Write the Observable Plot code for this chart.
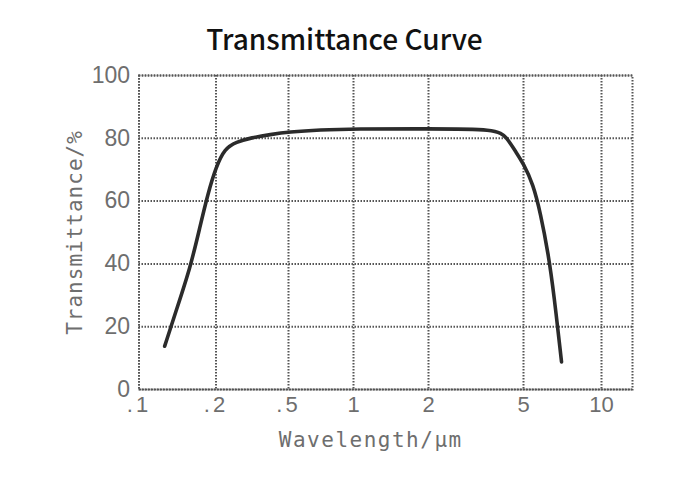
<!DOCTYPE html>
<html>
<head>
<meta charset="utf-8">
<script src="https://cdn.jsdelivr.net/npm/d3@7"></script>
<script src="https://cdn.jsdelivr.net/npm/@observablehq/plot@0.6"></script>
<style>
  html, body { margin: 0; padding: 0; background: #fff; }
  #title {
    width: 689px; height: 44px; padding-top: 16px;
    font-family: "Noto Sans CJK SC", "Noto Sans", sans-serif;
    font-weight: 500; font-size: 28px; line-height: 44px;
    text-align: center; color: #111;
  }
  svg { display: block; }
</style>
</head>
<body>
<div id="title">Transmittance Curve</div>
<div id="chart"></div>
<script>
// Data
const wavelength = [0.126, 0.1385, 0.159, 0.173, 0.186, 0.2, 0.223, 0.258, 0.313, 0.398, 0.5, 0.704, 1, 2, 3.87, 4.24, 4.65, 5, 5.44, 5.82, 6.23, 6.55, 7.01];
const transmittance = [13.8, 24.2, 39, 51.7, 62.4, 70.8, 76.7, 78.8, 80.2, 81.2, 82, 82.7, 83, 83, 83, 80.4, 75.6, 71.9, 65.5, 56, 43.3, 30.5, 8.8];
const xTicks = [0.1, 0.2, 0.5, 1, 2, 5, 10];
const xTickLabels = [".1", ".2", ".5", "1", "2", "5", "10"];
const yTicks = [0, 20, 40, 60, 80, 100];

const data = wavelength.map((w, i) => ({w, t: transmittance[i]}));

const gridStyle = {stroke: "#555", strokeOpacity: 1, strokeWidth: 2, strokeDasharray: "1.5,1.5"};
const labelGray = "#6e6e6e";
const tickFont = "'Liberation Sans', Arial, sans-serif";

const chart = Plot.plot({
  width: 689,
  height: 431,
  marginLeft: 138.5,
  marginRight: 57,
  marginTop: 15,
  marginBottom: 102,
  style: {fontFamily: "'Liberation Sans', Arial, sans-serif", background: "#fff"},
  x: {
    type: "log",
    axis: null,
    domain: [0.1, 0.2, 0.5, 1, 2, 5, 10, 12],
    range: [138.5, 215.5, 288, 353, 428, 523, 601, 632]
  },
  y: {domain: [0, 100], axis: null},
  marks: [
    Plot.gridX(xTicks, gridStyle),
    Plot.gridY(yTicks, gridStyle),
    Plot.frame(gridStyle),
    Plot.text(xTicks, {
      x: d => d, frameAnchor: "bottom", dy: 22, text: (d, i) => xTickLabels[i],
      fontSize: 22, fill: labelGray, textAnchor: "middle", fontFamily: tickFont
    }),
    Plot.text(yTicks, {
      y: d => d, frameAnchor: "left", dx: -9, text: d => String(d),
      fontSize: 23, fill: labelGray, textAnchor: "end", fontFamily: tickFont
    }),
    Plot.line(data, {x: "w", y: "t", stroke: "#2b2b2b", strokeWidth: 3.6, curve: "basis"}),
    Plot.text(["Transmittance/%"], {
      frameAnchor: "left", dx: -64, rotate: -90, text: d => d, textAnchor: "middle",
      fontSize: 21, fill: labelGray, fontFamily: "'DejaVu Sans Mono', monospace"
    }),
    Plot.text(["Wavelength/μm"], {
      frameAnchor: "bottom", dy: 57, dx: -15, text: d => d, textAnchor: "middle",
      fontSize: 21, fill: labelGray, fontFamily: "'DejaVu Sans Mono', monospace"
    })
  ]
});
chart.querySelectorAll("text").forEach(t => {
  const s = t.textContent;
  if (s === "Transmittance/%") t.style.letterSpacing = "1px";
  if (s === "Wavelength/μm") t.style.letterSpacing = "1.5px";
  if (s.startsWith(".")) t.style.letterSpacing = "3px";
});
document.getElementById("chart").append(chart);
</script>
</body>
</html>
